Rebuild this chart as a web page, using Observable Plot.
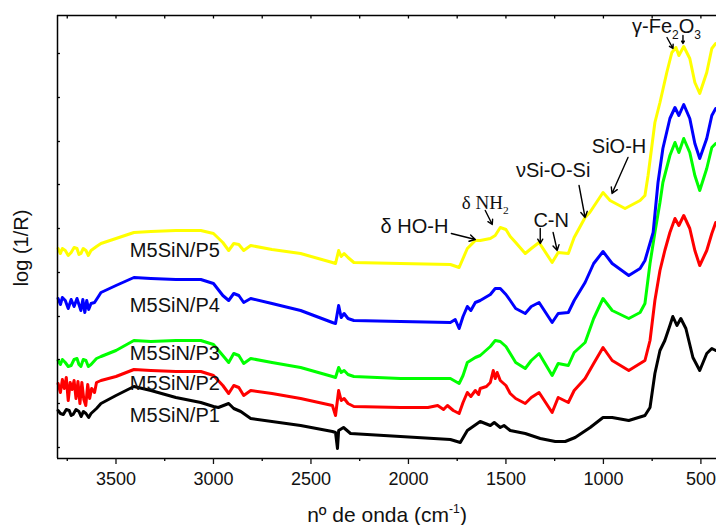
<!DOCTYPE html>
<html>
<head>
<meta charset="utf-8">
<script src="https://cdn.jsdelivr.net/npm/d3@7"></script>
<script src="https://cdn.jsdelivr.net/npm/@observablehq/plot@0.6"></script>
<style>
  html, body { margin: 0; padding: 0; background: #fff; }
</style>
</head>
<body>
<div id="chart"></div>
<script>
// ---- Data: [wavenumber (cm-1), log(1/R) arbitrary offset units] ----
const p1 = [[3797,4.8],[3785,4.5],[3770,4.4],[3755,4.9],[3740,4.8],[3730,4.3],[3720,4.4],[3705,4.9],[3690,4.7],[3679,4.2],[3667,4.7],[3654,4.5],[3640,4.1],[3628,4.5],[3600,5.0],[3577,5.5],[3500,6.3],[3408,7.2],[3321,6.8],[3193,6.1],[3065,5.6],[3000,5.2],[2975,5.1],[2922,5.5],[2896,5.0],[2860,4.7],[2809,4.0],[2553,3.3],[2390,2.7],[2374,2.6],[2364,1.0],[2358,2.8],[2333,3.1],[2297,2.5],[2041,2.2],[1785,1.9],[1734,1.6],[1698,2.8],[1632,3.7],[1580,3.3],[1560,3.6],[1529,3.1],[1510,3.3],[1478,2.8],[1401,2.5],[1324,2.0],[1247,1.7],[1196,1.7],[1145,2.1],[1068,3.1],[1002,4.1],[955,4.1],[870,3.8],[787,4.3],[761,5.1],[736,8.5],[710,10.8],[685,11.8],[659,13.3],[644,14.2],[623,13.3],[603,14.0],[577,13.0],[541,10.1],[506,8.8],[470,10.5],[444,11.0],[424,10.8]];
const p2 = [[3797,7.5],[3785,6.6],[3775,7.9],[3765,7.0],[3755,8.1],[3745,5.8],[3735,7.6],[3725,6.9],[3715,7.8],[3705,6.0],[3695,7.7],[3685,5.5],[3675,7.6],[3665,5.9],[3655,5.3],[3645,7.4],[3635,6.0],[3625,7.0],[3610,6.6],[3600,7.6],[3577,7.8],[3500,8.2],[3408,8.9],[3321,8.8],[3193,8.7],[3065,8.7],[3000,8.3],[2952,7.3],[2922,6.5],[2896,7.3],[2870,7.1],[2845,6.3],[2809,6.8],[2700,6.5],[2553,6.0],[2390,5.3],[2374,4.3],[2358,6.8],[2345,5.8],[2330,6.0],[2310,5.5],[2280,5.2],[2041,5.1],[1900,5.1],[1850,5.3],[1820,4.9],[1800,5.3],[1770,4.8],[1740,4.5],[1720,5.6],[1698,6.6],[1680,6.2],[1657,6.8],[1640,6.4],[1632,7.0],[1600,7.2],[1580,7.6],[1565,8.8],[1555,8.0],[1545,8.6],[1529,7.8],[1500,7.3],[1478,6.5],[1450,6.0],[1401,5.5],[1370,6.1],[1330,6.6],[1263,4.6],[1232,6.1],[1180,5.6],[1150,6.8],[1094,8.0],[1050,9.5],[1002,11.1],[955,9.8],[870,8.8],[812,9.5],[787,9.8],[761,11.8],[736,15.8],[710,18.8],[685,20.8],[659,22.6],[633,24.0],[613,23.3],[588,24.3],[557,23.0],[531,20.8],[506,19.3],[470,20.8],[444,22.5],[424,23.6]];
const p3 = [[3797,9.8],[3785,9.4],[3775,9.9],[3760,9.6],[3745,9.2],[3730,9.3],[3715,9.9],[3700,10.0],[3690,9.4],[3680,9.2],[3668,9.9],[3654,9.8],[3642,9.2],[3628,9.4],[3600,10.0],[3577,10.2],[3500,10.8],[3408,11.8],[3321,11.7],[3193,11.8],[3065,11.8],[3000,11.4],[2952,10.3],[2922,9.6],[2896,10.5],[2870,10.3],[2845,9.5],[2809,10.0],[2700,9.6],[2553,9.1],[2390,8.2],[2374,8.1],[2358,9.1],[2345,8.6],[2330,8.8],[2310,8.4],[2280,8.2],[2041,8.0],[1785,8.0],[1740,7.5],[1720,8.3],[1698,9.6],[1657,10.1],[1632,10.3],[1580,11.2],[1555,11.8],[1529,11.7],[1500,11.2],[1478,10.5],[1450,9.6],[1401,9.0],[1370,9.8],[1330,10.5],[1263,8.3],[1232,9.5],[1180,9.3],[1150,10.6],[1094,11.6],[1050,14.0],[1002,16.0],[955,14.8],[870,14.0],[812,14.6],[787,15.5],[761,19.5],[736,22.6],[710,25.6],[695,27.6],[659,30.3],[633,31.6],[613,30.6],[588,32.0],[557,30.6],[531,28.3],[506,26.8],[470,29.0],[444,31.1],[424,31.5]];
const p4 = [[3797,16.0],[3785,15.4],[3775,16.1],[3760,15.8],[3745,15.0],[3730,15.9],[3715,15.2],[3700,16.0],[3690,15.4],[3680,14.8],[3670,15.9],[3660,14.6],[3650,15.8],[3640,14.9],[3628,15.5],[3610,15.6],[3590,16.2],[3577,16.6],[3500,17.3],[3408,18.1],[3321,18.0],[3193,17.9],[3065,17.9],[3000,17.5],[2952,16.3],[2922,15.8],[2896,16.5],[2870,16.3],[2845,15.6],[2809,16.0],[2700,15.5],[2553,14.8],[2390,13.6],[2374,13.5],[2358,15.3],[2345,14.1],[2330,14.5],[2310,14.0],[2280,13.8],[2041,13.7],[1785,13.6],[1760,13.9],[1740,13.0],[1720,14.2],[1698,15.2],[1680,14.8],[1657,15.6],[1632,15.8],[1580,16.4],[1555,17.0],[1529,17.0],[1500,16.4],[1478,15.8],[1450,15.0],[1401,14.5],[1370,15.2],[1330,15.6],[1263,13.6],[1232,14.5],[1180,14.6],[1150,15.8],[1094,17.6],[1050,19.5],[1002,20.7],[955,19.5],[870,18.3],[812,19.0],[787,19.8],[745,22.6],[720,27.6],[695,31.0],[659,34.0],[633,35.1],[613,34.3],[588,35.4],[557,34.0],[531,31.5],[506,30.0],[470,32.0],[444,34.3],[424,35.0]];
const p5 = [[3797,21.0],[3785,20.5],[3775,21.0],[3760,20.8],[3745,20.3],[3730,20.6],[3715,21.1],[3700,21.0],[3690,20.4],[3680,20.5],[3668,21.0],[3654,20.8],[3642,20.3],[3628,20.8],[3600,21.2],[3577,21.5],[3500,22.0],[3408,22.6],[3321,22.7],[3193,22.8],[3065,22.8],[3000,22.5],[2952,21.6],[2922,20.8],[2896,21.5],[2870,21.4],[2845,20.8],[2809,21.3],[2700,20.9],[2553,20.5],[2390,19.6],[2374,19.5],[2358,20.8],[2345,20.2],[2330,20.5],[2310,20.1],[2280,19.6],[2041,19.5],[1785,19.4],[1740,19.1],[1698,21.0],[1657,21.8],[1632,21.8],[1580,22.0],[1555,22.3],[1529,23.1],[1500,22.9],[1478,22.2],[1450,21.6],[1401,20.5],[1370,21.0],[1330,21.6],[1263,19.6],[1232,20.6],[1180,20.5],[1150,22.1],[1094,24.1],[1070,24.6],[1002,26.6],[966,25.8],[889,25.0],[812,25.8],[787,26.3],[771,28.3],[761,29.8],[736,33.6],[710,35.6],[675,38.6],[649,40.6],[628,41.1],[613,40.3],[588,41.2],[557,40.0],[531,37.6],[506,36.5],[470,38.6],[444,41.0],[424,41.5]];

const seriesNames  = ["M5SiN/P1","M5SiN/P2","M5SiN/P3","M5SiN/P4","M5SiN/P5"];
const seriesColors = ["#000000","#ff0000","#00ff00","#0000ff","#ffff00"];
const seriesData   = [p1, p2, p3, p4, p5];
const seriesLabelWn = [3198, 3198, 3198, 3198, 3198];
const seriesLabelY  = [4.3, 7.5, 10.5, 15.3, 20.8];

const xMajor = [3500, 3000, 2500, 2000, 1500, 1000, 500];
const xMinor = [3750, 3250, 2750, 2250, 1750, 1250, 750];
const yTicks = [1.1, 5.5, 9.9, 14.2, 18.6, 23.0, 27.4, 31.7, 36.1, 40.5];

// annotations
const annText = ["δ HO-H", "C-N", "νSi-O-Si", "SiO-H"];
const annWn   = [1969, 1268, 1258, 920];
const annY    = [23.2, 23.8, 28.8, 31.2];
const arrowX1 = [1780, 1324, 1258, 1125, 874, 1606, 674, 592];
const arrowY1 = [22.5, 23.0, 22.6, 27.3, 30.1, 24.8, 42.1, 42.3];
const arrowX2 = [1657, 1324, 1237, 1094, 956, 1570, 643, 592];
const arrowY2 = [21.9, 21.5, 20.8, 24.1, 26.5, 23.4, 41.0, 41.5];

const X0 = 3800, X1 = 420, Y0 = 0, Y1 = 44.3;

const marks = [];
seriesData.forEach((pts, i) => {
  marks.push(Plot.line(pts, {x: d => d[0], y: d => d[1], stroke: seriesColors[i], strokeWidth: 3, strokeLinejoin: "round", strokeLinecap: "round"}));
});
// frame
marks.push(Plot.ruleY([Y0], {stroke: "#000", strokeWidth: 1.5}));
marks.push(Plot.ruleY([Y1], {stroke: "#000", strokeWidth: 1.5}));
marks.push(Plot.ruleX([X0], {stroke: "#000", strokeWidth: 1.5}));
// ticks
marks.push(Plot.axisX({ticks: xMajor, tickSize: 6, tickPadding: 8, fontSize: 18, label: null, tickFormat: d => String(d), strokeWidth: 1.3}));
marks.push(Plot.ruleX(xMinor, {y1: Y0, y2: -0.3, stroke: "#000", strokeWidth: 1.3}));
marks.push(Plot.ruleX(xMajor.concat(xMinor), {y1: Y1, y2: Y1 - 0.35, stroke: "#000", strokeWidth: 1.3}));
marks.push(Plot.ruleY(yTicks, {x1: X0, x2: X0 - 15, stroke: "#000", strokeWidth: 1.3}));
// series labels
marks.push(Plot.text(seriesNames, {x: (d, i) => seriesLabelWn[i], y: (d, i) => seriesLabelY[i], text: d => d, fontSize: 20, fill: "#111"}));
// annotations
marks.push(Plot.text(annText, {x: (d, i) => annWn[i], y: (d, i) => annY[i], text: d => d, fontSize: 20, fill: "#111"}));
marks.push(Plot.text(["δ NH₂"], {x: 1606, y: 25.6, text: d => d, fontSize: 19, fontFamily: "Liberation Serif, Times New Roman, serif", fill: "#111"}));
marks.push(Plot.text(["γ-Fe₂O₃"], {x: 853, y: 43.2, text: d => d, fontSize: 20, textAnchor: "start", fill: "#111"}));
marks.push(Plot.arrow(arrowX1, {x1: (d, i) => arrowX1[i], y1: (d, i) => arrowY1[i], x2: (d, i) => arrowX2[i], y2: (d, i) => arrowY2[i], stroke: "#000", strokeWidth: 1.4, headLength: 7}));
// axis titles
marks.push(Plot.text(["nº de onda (cm⁻¹)"], {frameAnchor: "bottom", textAnchor: "middle", lineAnchor: "middle", dy: 57, text: d => d, fontSize: 21, fill: "#111", letterSpacing: "1px"}));
marks.push(Plot.text(["log (1/R)"], {frameAnchor: "left", textAnchor: "middle", lineAnchor: "middle", dx: -36, dy: 11, rotate: -90, text: d => d, fontSize: 20, fill: "#111", letterSpacing: "0.5px"}));

const chart = Plot.plot({
  width: 716,
  height: 525,
  marginLeft: 57,
  marginRight: 0,
  marginTop: 15,
  marginBottom: 67,
  x: {domain: [X0, X1]},
  y: {domain: [Y0, Y1], axis: null},
  style: {fontFamily: "Liberation Sans, Arial, Helvetica, sans-serif", background: "#fff", color: "#111", overflow: "visible"},
  marks
});

// rebuild sub/superscripts as tspans
const subs = {"₂": "2", "₃": "3"}, sups = {"⁻": "-", "¹": "1"};
d3.select(chart).selectAll("text").each(function () {
  const t = this.textContent;
  if (!/[₂₃⁻¹]/.test(t)) return;
  const fs = parseFloat(d3.select(this.parentNode).attr("font-size")) || parseFloat(this.getAttribute("font-size")) || 20;
  const runs = [];
  for (const ch of t) {
    const type = subs[ch] ? "sub" : sups[ch] ? "sup" : "n";
    const c = subs[ch] || sups[ch] || ch;
    if (runs.length && runs[runs.length - 1].type === type) runs[runs.length - 1].s += c;
    else runs.push({type, s: c});
  }
  const el = d3.select(this);
  el.text(null);
  let shift = 0;
  runs.forEach(r => {
    const ts = el.append("tspan").text(r.s);
    let target = 0;
    if (r.type === "sub") { target = fs * 0.28; ts.attr("font-size", fs * 0.6); }
    if (r.type === "sup") { target = -fs * 0.45; ts.attr("font-size", fs * 0.58); }
    ts.attr("dy", target - shift);
    shift = target;
  });
});

document.getElementById("chart").appendChild(chart);
</script>
</body>
</html>
